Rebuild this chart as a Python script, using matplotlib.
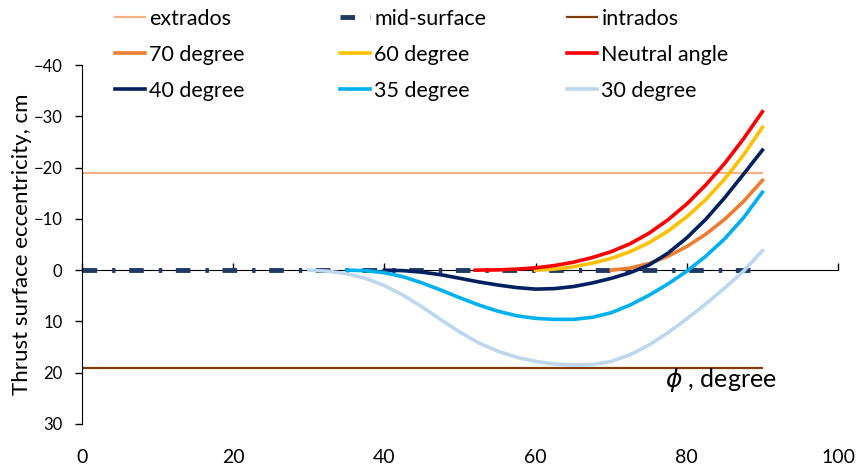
import numpy as np
import matplotlib
matplotlib.use('Agg')
import matplotlib.pyplot as plt

plt.rcParams['font.family'] = ['Lato', 'DejaVu Sans']

# Bordas da casca e superfície média (cm)
borda_x = [0, 90]
extradorso = [-19, -19]
superficie_media = [0, 0]
intradorso = [19, 19]

# Excentricidade da linha de empuxo (cm)
phi_neutro = [52, 55, 57.5, 60, 62.5, 65, 67.5, 70, 72.5, 75, 77.5, 80, 82.5, 85, 87.5, 90]
e_neutro = [0, -0.05, -0.2, -0.45, -0.9, -1.55, -2.45, -3.6, -5.15, -7.2, -9.8, -12.9, -16.6, -20.8, -25.6, -30.9]

phi_60 = [60, 62.5, 65, 67.5, 70, 72.5, 75, 77.5, 80, 82.5, 85, 87.5, 90]
e_60 = [0, -0.2, -0.65, -1.35, -2.3, -3.6, -5.35, -7.6, -10.4, -13.75, -17.75, -22.45, -27.85]

phi_70 = [70, 72.5, 75, 77.5, 80, 82.5, 85, 87.5, 90]
e_70 = [0, -0.4, -1.3, -2.7, -4.6, -7.0, -9.9, -13.4, -17.5]

phi_40 = [40, 42.5, 45, 47.5, 50, 52.5, 55, 57.5, 60, 62.5, 65, 67.5, 70, 72.5, 75, 77.5, 80, 82.5, 85, 87.5, 90]
e_40 = [0, 0.1, 0.4, 0.9, 1.6, 2.3, 2.9, 3.4, 3.7, 3.6, 3.2, 2.5, 1.6, 0.5, -1.0, -3.3, -6.3, -9.9, -14.1, -18.7, -23.4]

phi_35 = [35, 37.5, 40, 42.5, 45, 47.5, 50, 52.5, 55, 57.5, 60, 62.5, 65, 67.5, 70, 72.5, 75, 77.5, 80, 82.5, 85, 87.5, 90]
e_35 = [0, 0.1, 0.5, 1.3, 2.5, 3.9, 5.4, 6.8, 8.0, 8.9, 9.4, 9.6, 9.6, 9.2, 8.3, 6.8, 4.9, 2.7, 0.2, -2.7, -6.1, -10.2, -15.2]

phi_30 = [30, 32.5, 35, 37.5, 40, 42.5, 45, 47.5, 50, 52.5, 55, 57.5, 60, 62.5, 65, 67.5, 70, 72.5, 75, 77.5, 80, 82.5, 85, 87.5, 90]
e_30 = [0, 0.2, 0.7, 1.6, 3.0, 4.9, 7.2, 9.7, 12.1, 14.2, 15.8, 17.0, 17.8, 18.3, 18.5, 18.4, 17.8, 16.5, 14.6, 12.2, 9.5, 6.6, 3.5, 0.2, -3.8]

x_ticks = [0, 20, 40, 60, 80, 100]
y_ticks = [-40, -30, -20, -10, 0, 10, 20, 30]

fig = plt.figure(figsize=(8.6, 4.69), dpi=100)
ax = fig.add_axes([82 / 860, 45 / 469, 756 / 860, 359 / 469])

l_ext, = ax.plot(borda_x, extradorso, color='#F4B183', lw=1.6)
l_mid, = ax.plot(borda_x, superficie_media, color='#1F3864', lw=3.5,
                 linestyle=(0, (3.0, 3.1, 0.7, 2.8)), dash_capstyle='butt')
l_int, = ax.plot(borda_x, intradorso, color='#843C0C', lw=1.6)
l_70, = ax.plot(phi_70, e_70, color='#ED7D31', lw=2.6)
l_60, = ax.plot(phi_60, e_60, color='#FFC000', lw=2.6)
l_neu, = ax.plot(phi_neutro, e_neutro, color='#FF0000', lw=2.6)
l_40, = ax.plot(phi_40, e_40, color='#002060', lw=2.6)
l_35, = ax.plot(phi_35, e_35, color='#00B0F0', lw=2.6)
l_30, = ax.plot(phi_30, e_30, color='#BDD7EE', lw=2.6)

ax.set_xlim(0, 100)
ax.set_ylim(30, -40)
ax.set_yticks(y_ticks)
ax.set_xticks(x_ticks)

for s in ['top', 'right']:
    ax.spines[s].set_visible(False)
ax.spines['bottom'].set_position(('data', 0))
ax.spines['bottom'].set_zorder(0.5)
ax.tick_params(axis='x', direction='in', length=5, labelbottom=False, width=1)
ax.tick_params(axis='y', direction='out', length=5, width=1, labelsize=12, pad=9)

# rótulos do eixo x embaixo (estilo Excel)
sec = ax.secondary_xaxis('bottom')
sec.set_xticks(x_ticks)
sec.spines['bottom'].set_visible(False)
sec.tick_params(length=0, labelsize=14, pad=18)

ax.set_ylabel('Thrust surface eccentricity, cm', fontsize=16, labelpad=1)
ax.text(84.5, 21.5, r'$\phi$ , degree', fontsize=18, ha='center', va='center')

# legenda em três colunas
colunas = [
    ([l_ext, l_70, l_40], ['extrados', '70 degree', '40 degree'], 115),
    ([l_mid, l_60, l_35], ['mid-surface', '60 degree', '35 degree'], 340),
    ([l_int, l_neu, l_30], ['intrados', 'Neutral angle', '30 degree'], 567),
]
for handles, labels, xpix in colunas:
    fig.legend(handles, labels, loc='upper left',
               bbox_to_anchor=(xpix / 860, 1 - 9 / 469),
               frameon=False, fontsize=15.5, borderpad=0,
               borderaxespad=0, handlelength=1.4, handletextpad=0.2,
               labelspacing=0.74)

fig.savefig('out.png', dpi=100)
